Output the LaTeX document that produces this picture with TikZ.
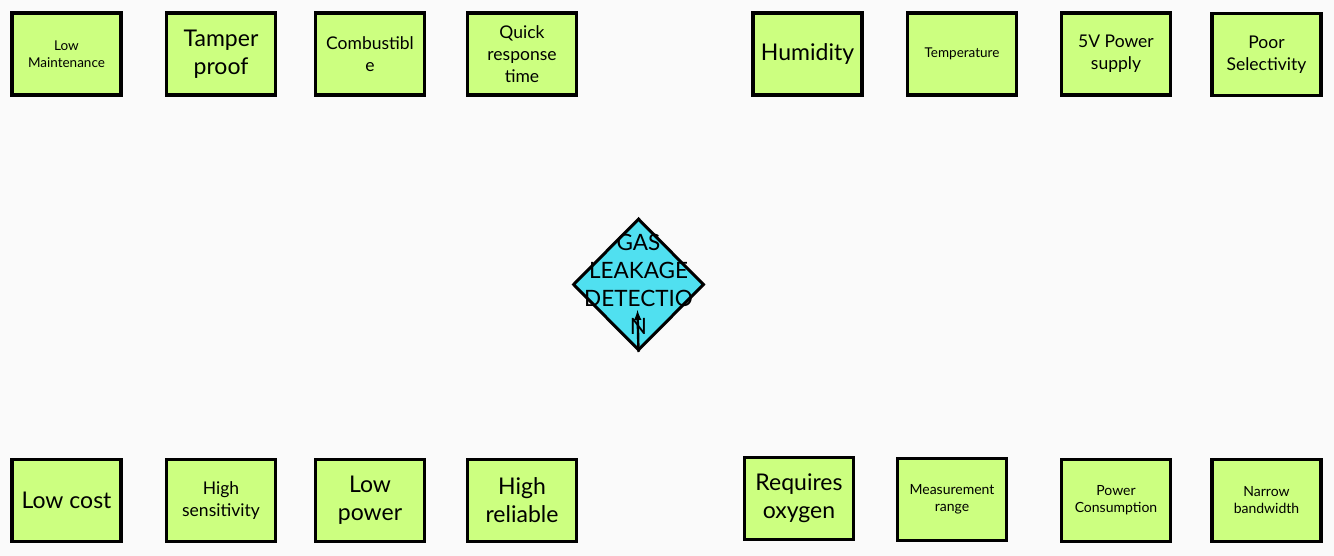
\documentclass[tikz,border=0pt]{standalone}
\usepackage{fontspec}
\setmainfont{Lato}
\usetikzlibrary{shapes.geometric}
\definecolor{paper}{RGB}{250, 250, 250}
\definecolor{lime}{RGB}{204, 255, 128}
\definecolor{aqua}{RGB}{80, 224, 240}

\begin{document}
\begin{tikzpicture}[%
        x=1pt, y=-1pt,
        basic/.style ={draw, line width=3.2pt, fill=lime, inner sep=0pt, minimum width=109pt, minimum height=82pt, align=center},
        big/.style={basic, font=\fontsize{23}{28}\selectfont},
        mid/.style={basic, font=\fontsize{17.5}{22}\selectfont},
        small/.style={basic, font=\fontsize{14}{17}\selectfont},
        tiny/.style={basic, font=\fontsize{13.5}{17}\selectfont},
        topic/.style={diamond, draw, line width=3pt, fill=aqua, inner sep=0pt, minimum width=131pt, minimum height=132pt},
        dep/.style={-latex, line width=2.4pt}
        ]
        \fill[paper] (0,0) rectangle (1334,556);
        \useasboundingbox (0,0) rectangle (1334,556);
        % top row
        \node[tiny] (lmt) at (66.5,54) {Low\\Maintenance};
        \node[big] (tmp) at (221,54) {Tamper\\proof};
        \node[mid] (cmb) at (370,54) {Combustibl\\e};
        \node[mid] (qrt) at (522,54) {Quick\\response\\time};
        \node[big] (hum) at (807.5,54) {Humidity};
        \node[tiny] (tem) at (962,54) {Temperature};
        \node[mid] (pws) at (1116,54) {5V Power\\supply};
        \node[mid] (psl) at (1266.5,54.5) {Poor\\Selectivity};
        % bottom row
        \node[big] (lco) at (66.5,500.5) {Low cost};
        \node[mid] (hse) at (221,500.5) {High\\sensitivity};
        \node[big] (lpw) at (370,500.5) {Low\\power};
        \node[big] (hrl) at (522,500.5) {High\\reliable};
        \node[big] (rox) at (799,498.5) {Requires\\oxygen};
        \node[small] (mrg) at (952,499.5) {Measurement\\range};
        \node[small] (pcn) at (1116,500.5) {Power\\Consumption};
        \node[small] (nbw) at (1266.5,500.5) {Narrow\\bandwidth};
        % centre
        \node[topic, label={[align=center, font=\fontsize{22.5}{28}\selectfont]center:GAS\\LEAKAGE\\DETECTIO\\N}] (gas) at (638.5,284.5) {};
        \coordinate (tip) at (637.5,310);
        \draw[dep] (gas.south) -- (tip);
\end{tikzpicture}
\end{document}
